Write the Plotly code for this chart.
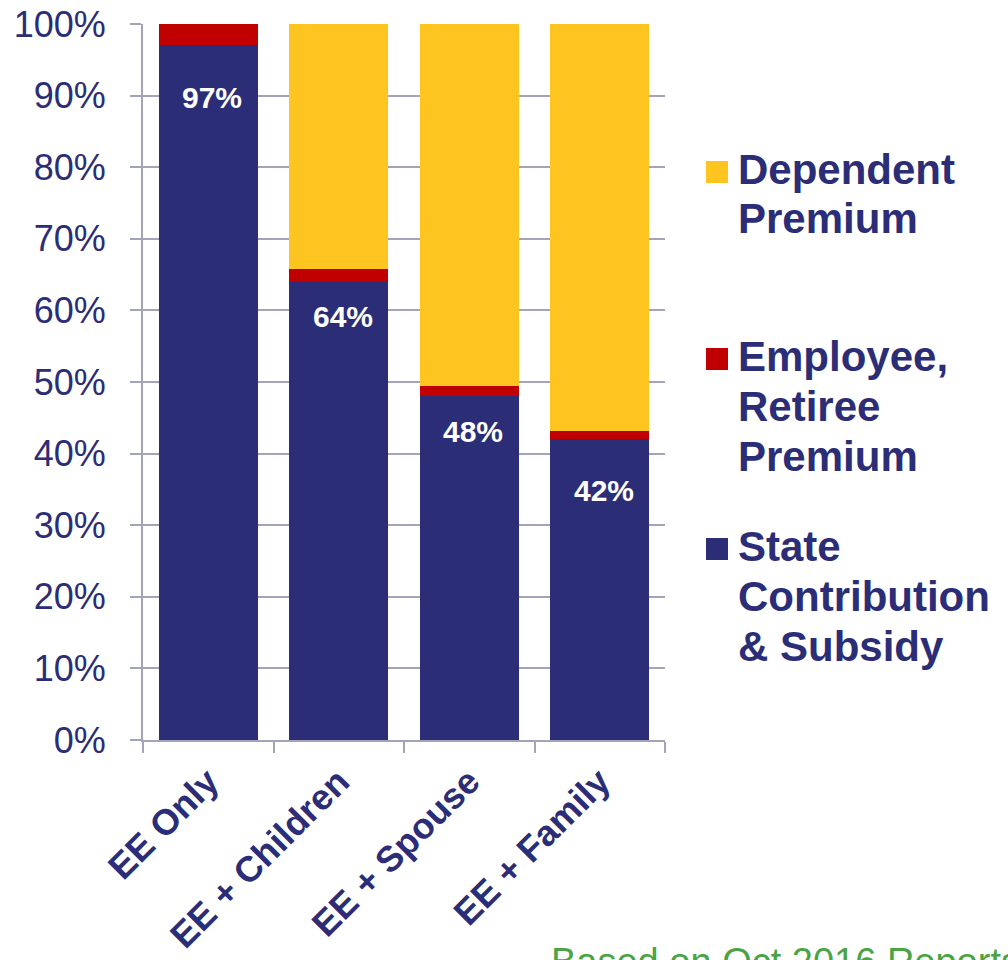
import plotly.graph_objects as go

# ---- data ----
categories = ["EE Only", "EE + Children", "EE + Spouse", "EE + Family"]
state_contribution = [97, 64, 48, 42]
employee_premium = [3, 1.8, 1.4, 1.2]
dependent_premium = [0, 34.2, 50.6, 56.8]
y_tick_values = [0, 10, 20, 30, 40, 50, 60, 70, 80, 90, 100]
y_tick_labels = ["0%", "10%", "20%", "30%", "40%", "50%", "60%", "70%", "80%", "90%", "100%"]
series_names = ["State Contribution & Subsidy", "Employee, Retiree Premium", "Dependent Premium"]
legend_lines = [["Dependent", "Premium"], ["Employee,", "Retiree", "Premium"], ["State", "Contribution", "& Subsidy"]]
footer_text = "Based on Oct 2016 Reports"

# ---- style ----
NAVY = "#2B2D77"
RED = "#C00000"
YELLOW = "#FEC520"
GRID = "#A3A3BA"
GREEN = "#4CA346"
FONT = "Liberation Sans, Arial, sans-serif"
W, H = 1008, 960
ML, MR, MT, MB = 143, 343, 24, 220
LABEL_DROP = [34, 16, 17, 33]

def px_x(px):
    return (px - ML) / (W - ML - MR)

def px_y(py):
    return (H - MB - py) / (H - MT - MB)

fig = go.Figure()
for name, vals, col in zip(series_names,
                           [state_contribution, employee_premium, dependent_premium],
                           [NAVY, RED, YELLOW]):
    fig.add_trace(go.Bar(x=categories, y=vals, name=name, marker_color=col,
                         marker_line_width=0, showlegend=False, width=0.758))

annotations = []
# value labels inside the navy bars
for i, (c, v) in enumerate(zip(categories, state_contribution)):
    annotations.append(dict(x=c, y=v, xref="x", yref="y", text=f"{v:.0f}%",
                            showarrow=False, yanchor="top", xanchor="center",
                            xshift=4, yshift=-LABEL_DROP[i],
                            font=dict(family=FONT, size=30, color="white", weight="bold")))

# manual legend
legend_colors = [YELLOW, RED, NAVY]
first_line_mid = [169, 356, 546]
shapes = []
for lines, col, y0 in zip(legend_lines, legend_colors, first_line_mid):
    cy = y0 + 3
    shapes.append(dict(type="rect", xref="paper", yref="paper",
                       x0=px_x(706), x1=px_x(728), y0=px_y(cy + 11), y1=px_y(cy - 11),
                       fillcolor=col, line_width=0))
    for k, ln in enumerate(lines):
        annotations.append(dict(x=px_x(737), y=px_y(y0 + 50 * k), xref="paper", yref="paper",
                                text=ln, showarrow=False, xanchor="left", yanchor="middle",
                                borderpad=0,
                                font=dict(family=FONT, size=42, color=NAVY, weight="bold")))

annotations.append(dict(x=px_x(550), y=px_y(940), xref="paper", yref="paper",
                        text=footer_text, showarrow=False, xanchor="left", yanchor="top",
                        borderpad=0, font=dict(family=FONT, size=38, color=GREEN)))

fig.update_layout(
    barmode="stack",
    width=W, height=H,
    margin=dict(l=ML, r=MR, t=MT, b=MB, pad=0, autoexpand=False),
    paper_bgcolor="white", plot_bgcolor="white",
    showlegend=False,
    annotations=annotations,
    shapes=shapes,
    font=dict(family=FONT, color=NAVY),
)
fig.update_yaxes(range=[0, 100], tickvals=y_tick_values, ticktext=y_tick_labels,
                 automargin=False,
                 showgrid=True, gridcolor=GRID, gridwidth=2,
                 showline=True, linecolor=GRID, linewidth=2,
                 ticks="outside", ticklen=11, tickcolor=GRID, tickwidth=2,
                 ticklabelstandoff=17, zeroline=False,
                 tickfont=dict(family=FONT, size=36, color=NAVY))
fig.update_xaxes(automargin=False, showgrid=False, showline=True, linecolor=GRID, linewidth=2,
                 ticks="outside", tickson="boundaries", ticklen=11, tickcolor=GRID, tickwidth=2,
                 tickangle=-45, ticklabelstandoff=4,
                 tickfont=dict(family=FONT, size=36, color=NAVY, weight="bold"))

fig.write_html("out.html")
